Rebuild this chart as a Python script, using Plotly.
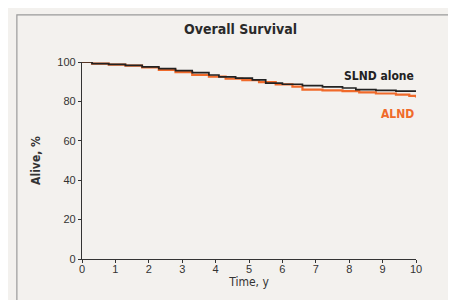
import plotly.graph_objects as go

# Kaplan-Meier style curves
slnd_t = [0, 0.3, 0.8, 1.3, 1.8, 2.3, 2.8, 3.3, 3.8, 4.1, 4.6, 5.1, 5.5, 6.0, 6.6, 7.2, 7.8, 8.2, 8.8, 9.4, 10]
slnd_v = [100, 99.2, 98.8, 98.3, 97.5, 96.6, 95.6, 94.6, 93.4, 92.4, 91.8, 90.9, 89.3, 88.7, 88.0, 87.4, 86.8, 86.0, 85.6, 85.2, 84.8]
alnd_t = [0, 0.3, 0.8, 1.3, 1.8, 2.3, 2.8, 3.3, 3.8, 4.3, 4.8, 5.3, 5.8, 6.3, 6.6, 7.2, 7.8, 8.3, 8.8, 9.4, 9.8, 10]
alnd_v = [100, 99.2, 98.7, 98.2, 97.2, 96.0, 94.9, 93.5, 92.6, 91.6, 90.8, 89.8, 88.6, 87.5, 86.0, 85.6, 85.2, 84.6, 84.0, 83.4, 82.8, 82.0]

x_ticks = list(range(0, 11))
y_ticks = [0, 20, 40, 60, 80, 100]

cond = "DejaVu Sans Condensed, Liberation Sans Narrow, sans-serif"
plain = "Liberation Sans, DejaVu Sans, sans-serif"

fig = go.Figure()
fig.add_trace(go.Scatter(x=alnd_t, y=alnd_v, mode="lines", line=dict(color="#f06a2a", width=2.2, shape="hv"), name="ALND"))
fig.add_trace(go.Scatter(x=slnd_t, y=slnd_v, mode="lines", line=dict(color="#222222", width=1.7, shape="hv"), name="SLND alone"))

fig.add_annotation(x=10, y=slnd_v[-1], xref="x", yref="y", text="<b>SLND alone</b>", showarrow=False,
                   xanchor="right", yanchor="bottom", yshift=7, font=dict(size=12, color="#222222", family=cond))
fig.add_annotation(x=10, y=alnd_v[-1], xref="x", yref="y", text="<b>ALND</b>", showarrow=False,
                   xanchor="right", yanchor="top", yshift=-8, font=dict(size=12, color="#f06a2a", family=cond))

fig.add_shape(type="rect", xref="paper", yref="paper", x0=-0.195, x1=1.117, y0=-0.228, y1=1.239,
              line=dict(color="#9a9a9a", width=1.2), fillcolor="rgba(0,0,0,0)", layer="below")

fig.update_layout(
    width=456, height=300,
    margin=dict(l=74, r=48, t=54, b=49),
    paper_bgcolor="#f3f1ee", plot_bgcolor="#f3f1ee",
    showlegend=False,
    title=dict(text="<b>Overall Survival</b>", x=0.51, xanchor="center", y=0.93, yanchor="middle",
               font=dict(size=14, color="#2a2a2a", family=cond)),
    font=dict(family=plain, color="#333333", size=11),
    xaxis=dict(range=[0, 10], tickvals=x_ticks, showgrid=False, zeroline=False, showline=True,
               linecolor="#333333", linewidth=1.2, ticks="outside", ticklen=3, tickcolor="#333333",
               ticklabelstandoff=-3,
               title=dict(text="Time, y", standoff=0, font=dict(size=12, family=cond)), tickfont=dict(size=11)),
    yaxis=dict(range=[0, 100], tickvals=y_ticks, showgrid=False, zeroline=False, showline=True,
               linecolor="#333333", linewidth=1.2, ticks="outside", ticklen=3, tickcolor="#333333",
               title=dict(text="<b>Alive, %</b>", standoff=14, font=dict(size=12, family=cond)), tickfont=dict(size=11)),
)

fig.write_html("out.html")
